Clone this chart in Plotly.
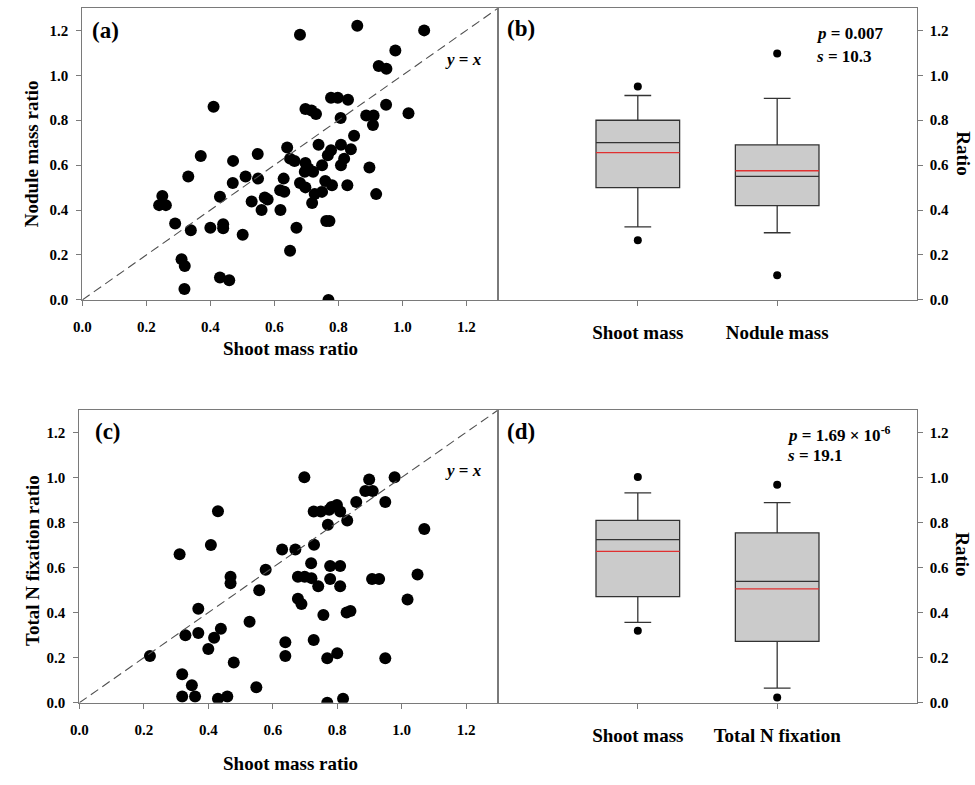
import plotly.graph_objects as go

# ---------------- data ----------------
# Panel (a): shoot mass ratio vs nodule mass ratio
a_shoot = [1.068, 0.859, 0.680, 0.978, 0.926, 0.950, 0.410, 1.019, 0.949, 0.777,
           0.798, 0.830, 0.697, 0.716, 0.730, 0.807, 0.887, 0.910, 0.908, 0.849,
           0.640, 0.738, 0.808, 0.839, 0.777, 0.767, 0.818, 0.649, 0.663, 0.370,
           0.548, 0.471, 0.697, 0.749, 0.808, 0.897, 0.331, 0.510, 0.549, 0.629,
           0.695, 0.721, 0.706, 0.470, 0.680, 0.697, 0.759, 0.780, 0.828, 0.618,
           0.631, 0.726, 0.749, 0.918, 0.718, 0.250, 0.240, 0.261, 0.430, 0.529,
           0.570, 0.579, 0.560, 0.619, 0.290, 0.339, 0.400, 0.440, 0.440, 0.501,
           0.669, 0.762, 0.772, 0.649, 0.310, 0.320, 0.319, 0.430, 0.459, 0.769]
a_nodule = [1.200, 1.221, 1.181, 1.110, 1.041, 1.029, 0.860, 0.831, 0.869, 0.900,
            0.900, 0.891, 0.850, 0.843, 0.828, 0.810, 0.821, 0.821, 0.779, 0.731,
            0.679, 0.691, 0.691, 0.671, 0.666, 0.644, 0.629, 0.629, 0.618, 0.641,
            0.650, 0.619, 0.610, 0.600, 0.600, 0.590, 0.549, 0.549, 0.540, 0.540,
            0.571, 0.571, 0.585, 0.521, 0.521, 0.501, 0.529, 0.510, 0.510, 0.488,
            0.482, 0.471, 0.481, 0.471, 0.431, 0.463, 0.422, 0.422, 0.459, 0.438,
            0.456, 0.447, 0.400, 0.400, 0.340, 0.310, 0.321, 0.337, 0.319, 0.290,
            0.321, 0.351, 0.351, 0.219, 0.181, 0.151, 0.049, 0.100, 0.088, 0.000]

# Panel (c): shoot mass ratio vs total N fixation ratio
c_shoot = [0.698, 0.899, 0.978, 0.887, 0.910, 0.949, 0.859, 0.430, 0.727, 0.749,
           0.775, 0.799, 0.782, 0.809, 0.831, 0.771, 1.070, 0.408, 0.311, 0.629,
           0.670, 0.728, 0.719, 0.778, 0.809, 0.578, 0.469, 0.469, 0.678, 0.699,
           0.720, 0.741, 0.778, 0.809, 0.908, 0.930, 1.049, 0.558, 1.018, 0.678,
           0.689, 0.369, 0.757, 0.829, 0.841, 0.528, 0.329, 0.369, 0.418, 0.439,
           0.400, 0.639, 0.727, 0.219, 0.639, 0.769, 0.800, 0.949, 0.479, 0.319,
           0.349, 0.549, 0.319, 0.359, 0.430, 0.459, 0.818, 0.769]
c_totaln = [1.001, 0.991, 1.001, 0.940, 0.940, 0.891, 0.891, 0.850, 0.849, 0.849,
            0.856, 0.878, 0.869, 0.849, 0.809, 0.790, 0.771, 0.700, 0.659, 0.680,
            0.680, 0.701, 0.619, 0.607, 0.607, 0.590, 0.559, 0.530, 0.559, 0.559,
            0.553, 0.517, 0.549, 0.517, 0.549, 0.549, 0.569, 0.499, 0.458, 0.462,
            0.438, 0.417, 0.389, 0.400, 0.407, 0.359, 0.300, 0.310, 0.288, 0.328,
            0.239, 0.268, 0.278, 0.208, 0.208, 0.198, 0.220, 0.198, 0.179, 0.127,
            0.078, 0.069, 0.028, 0.028, 0.018, 0.028, 0.018, 0.000]

# Panel (b) box statistics
b_categories = ["Shoot mass", "Nodule mass"]
b_q1 = [0.500, 0.420]
b_median = [0.700, 0.550]
b_q3 = [0.800, 0.690]
b_lower = [0.325, 0.299]
b_upper = [0.910, 0.897]
b_mean = [0.656, 0.575]
b_outliers = [[0.950, 0.266], [1.097, 0.110]]

# Panel (d) box statistics
d_categories = ["Shoot mass", "Total N fixation"]
d_q1 = [0.471, 0.272]
d_median = [0.724, 0.539]
d_q3 = [0.809, 0.754]
d_lower = [0.357, 0.065]
d_upper = [0.931, 0.888]
d_mean = [0.672, 0.505]
d_outliers = [[1.002, 0.319], [0.967, 0.023]]

ratio_ticks = [0.0, 0.2, 0.4, 0.6, 0.8, 1.0, 1.2]
axis_max = 1.3
box_width = 0.6

# ---------------- figure ----------------
W, H = 975, 785
FONT = "Liberation Serif, Times New Roman, serif"
GREY = "#7a7a7a"

fig = go.Figure()

# scatter panels
fig.add_trace(go.Scatter(x=a_shoot, y=a_nodule, mode="markers",
                         marker=dict(color="black", size=12),
                         xaxis="x", yaxis="y", showlegend=False))
fig.add_trace(go.Scatter(x=[0, axis_max], y=[0, axis_max], mode="lines",
                         line=dict(color="#505050", width=1.1, dash="9px,5px"),
                         xaxis="x", yaxis="y", showlegend=False))
fig.add_trace(go.Scatter(x=c_shoot, y=c_totaln, mode="markers",
                         marker=dict(color="black", size=12),
                         xaxis="x3", yaxis="y3", showlegend=False))
fig.add_trace(go.Scatter(x=[0, axis_max], y=[0, axis_max], mode="lines",
                         line=dict(color="#505050", width=1.1, dash="9px,5px"),
                         xaxis="x3", yaxis="y3", showlegend=False))


def add_boxes(cats, q1, med, q3, lo, up, mean, outl, xa, ya):
    for i in range(len(cats)):
        pos = i + 1
        fig.add_trace(go.Box(x=[pos], q1=[q1[i]], median=[med[i]], q3=[q3[i]],
                             lowerfence=[lo[i]], upperfence=[up[i]],
                             width=box_width, whiskerwidth=0.32,
                             fillcolor="#cbcbcb",
                             line=dict(color="#333333", width=1.3),
                             boxpoints=False, hoverinfo="skip",
                             xaxis=xa, yaxis=ya, showlegend=False))
        fig.add_trace(go.Scatter(x=[pos - box_width / 2, pos + box_width / 2],
                                 y=[mean[i], mean[i]], mode="lines",
                                 line=dict(color="#e03030", width=1.3),
                                 xaxis=xa, yaxis=ya, showlegend=False))
        fig.add_trace(go.Scatter(x=[pos] * len(outl[i]), y=outl[i], mode="markers",
                                 marker=dict(color="black", size=8),
                                 xaxis=xa, yaxis=ya, showlegend=False))


add_boxes(b_categories, b_q1, b_median, b_q3, b_lower, b_upper, b_mean, b_outliers, "x2", "y2")
add_boxes(d_categories, d_q1, d_median, d_q3, d_lower, d_upper, d_mean, d_outliers, "x4", "y4")


# domains (paper = whole figure, margins 0)
def dx(px0, px1):
    return [px0 / W, px1 / W]


def dy(top, bottom):
    return [1 - bottom / H, 1 - top / H]


tickfont = dict(family=FONT, size=15, color="black", weight="bold")
catfont = dict(family=FONT, size=19, color="black", weight="bold")

common = dict(showline=True, linecolor=GREY, linewidth=1.2, mirror=True,
              showgrid=False, zeroline=False, ticks="outside", tickcolor=GREY,
              ticklen=5, tickwidth=1)

tick_text = [f"{v:.1f}" for v in ratio_ticks]
scatter_x = dict(range=[0, axis_max], tickvals=ratio_ticks, ticktext=tick_text,
                 tickfont=tickfont, ticklabelstandoff=8, **common)
scatter_y = dict(range=[0, axis_max], tickvals=ratio_ticks, ticktext=tick_text,
                 tickfont=tickfont, ticklabelstandoff=5, **common)
box_y = dict(range=[0, axis_max], tickvals=ratio_ticks, ticktext=tick_text,
             tickfont=tickfont, side="right", ticklabelstandoff=4, **common)

fig.update_layout(
    width=W, height=H,
    margin=dict(l=0, r=0, t=0, b=0),
    paper_bgcolor="white", plot_bgcolor="white",
    font=dict(family=FONT, color="black"),
    xaxis=dict(domain=dx(74, 494), anchor="y", **scatter_x),
    yaxis=dict(domain=dy(8, 303), anchor="x", **scatter_y),
    xaxis2=dict(domain=dx(494, 916), anchor="y2", range=[0, 3],
                tickvals=[1, 2], ticktext=b_categories, tickfont=catfont,
                ticklabelstandoff=10, **common),
    yaxis2=dict(domain=dy(8, 303), anchor="x2", **box_y),
    xaxis3=dict(domain=dx(71, 494), anchor="y3", **scatter_x),
    yaxis3=dict(domain=dy(414, 710), anchor="x3", **scatter_y),
    xaxis4=dict(domain=dx(494, 916), anchor="y4", range=[0, 3],
                tickvals=[1, 2], ticktext=d_categories, tickfont=catfont,
                ticklabelstandoff=10, **common),
    yaxis4=dict(domain=dy(414, 710), anchor="x4", **box_y),
)


def ann(text, x, y, size, angle=0, xanchor="center"):
    fig.add_annotation(text=text, x=x / W, y=1 - y / H, xref="paper", yref="paper",
                       showarrow=False, textangle=angle, xanchor=xanchor,
                       yanchor="middle",
                       font=dict(family=FONT, size=size, color="black", weight="bold"))


# axis titles
ann("Nodule mass ratio", 23, 155, 19, -90)
ann("Shoot mass ratio", 284, 352, 19)
ann("Total N fixation ratio", 23, 566, 19, -90)
ann("Shoot mass ratio", 284, 771, 19)
ann("Ratio", 963, 155, 19, 90)
ann("Ratio", 963, 560, 19, 90)

# panel labels
ann("(a)", 82, 31, 23, xanchor="left")
ann("(b)", 501, 29, 23, xanchor="left")
ann("(c)", 85, 436, 23, xanchor="left")
ann("(d)", 501, 436, 23, xanchor="left")

# y = x labels
ann("<i>y</i> = <i>x</i>", 459, 60, 17)
ann("<i>y</i> = <i>x</i>", 459, 475, 17)

# statistics
ann("<i>p</i> = 0.007", 813, 34, 17, xanchor="left")
ann("<i>s</i> = 10.3", 813, 57, 17, xanchor="left")
ann("<i>p</i> = 1.69 × 10<sup>-6</sup>", 783, 438, 17, xanchor="left")
ann("<i>s</i> = 19.1", 783, 460, 17, xanchor="left")

fig.write_html("out.html")
